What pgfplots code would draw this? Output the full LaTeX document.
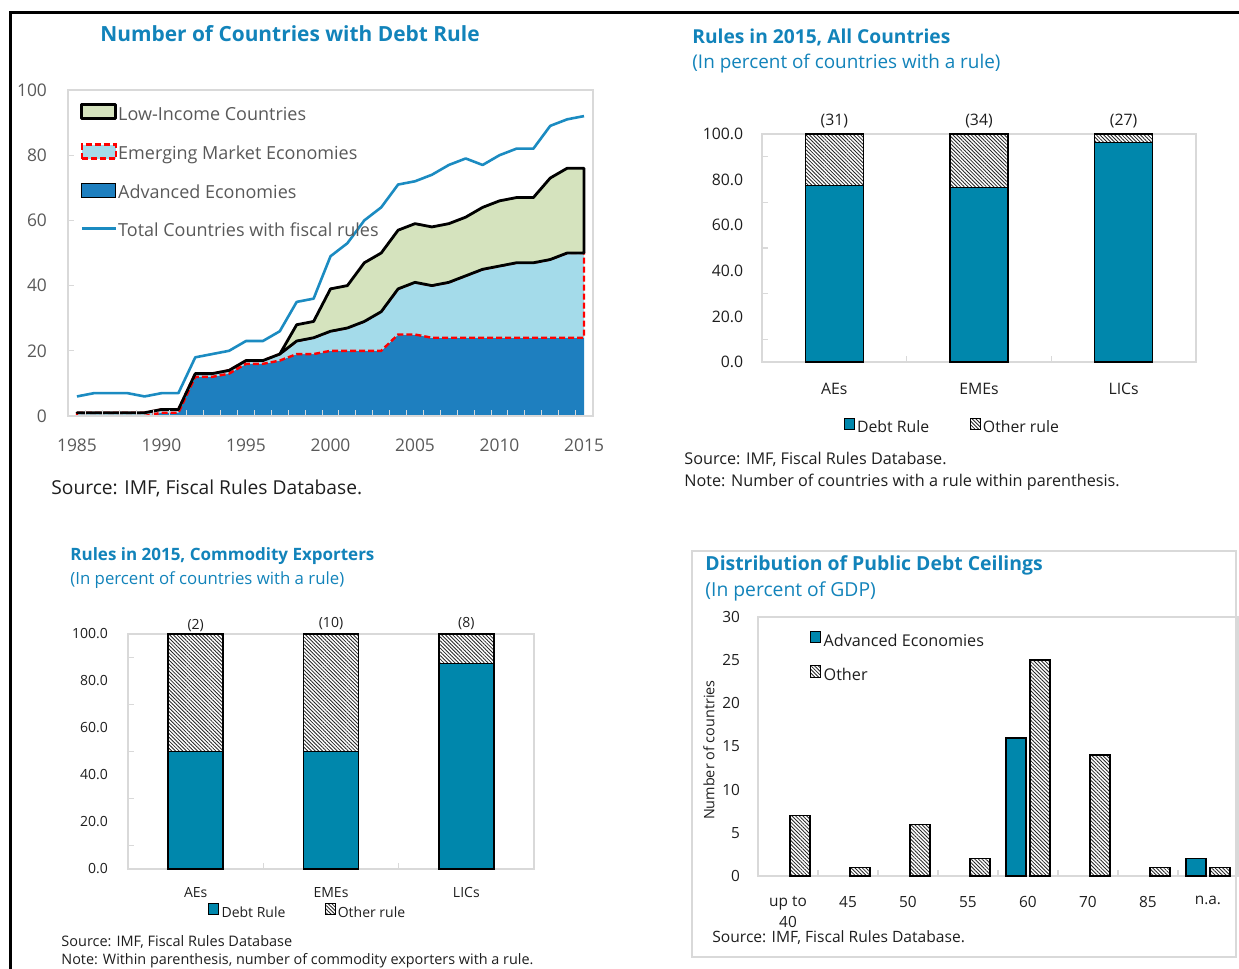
\documentclass[border=0pt]{standalone}
\usepackage{fontspec}
\setmainfont{Open Sans}
\usepackage{pgfplots}
\pgfplotsset{compat=1.18}
\usetikzlibrary{patterns.meta}

\definecolor{ttl}{RGB}{18,131,186}
\definecolor{aeblue}{RGB}{30,127,191}
\definecolor{totblue}{RGB}{27,139,193}
\definecolor{emelight}{RGB}{164,219,234}
\definecolor{licgreen}{RGB}{213,227,190}
\definecolor{debt}{RGB}{0,135,172}
\definecolor{lbl}{RGB}{89,89,89}
\definecolor{frm}{RGB}{217,217,217}
\definecolor{txt}{RGB}{30,30,30}

\newcommand{\fs}[1]{\fontsize{#1pt}{10.5pt}\selectfont}
\tikzset{hatch/.style={pattern={Lines[angle=-45,distance=1.3pt,line width=0.42pt]},pattern color=black!85}}
\pgfplotsset{
  boxleg/.style={legend image code/.code={\draw[##1] (0pt,-1.8pt) rectangle (17pt,5.2pt);}},
  lineleg/.style={legend image code/.code={\draw[##1] (0pt,1.7pt) -- (17pt,1.7pt);}},
}

\begin{document}
\begin{tikzpicture}
\begin{scope}[x=0.5pt,y=-0.5pt]
\path[use as bounding box] (0,0) rectangle (1239,969);
\draw[line width=1.5pt] (10,969) -- (10,12) -- (1239,12);
\draw[frm, line width=1pt] (692,551) rectangle (1236,957);
% titles and notes
\node[anchor=center, inner sep=0, font=\bfseries\fs{10.45}, text=ttl] at (290,34) {Number of Countries with Debt Rule};
\node[anchor=west, inner sep=0, font=\fs{9.6}, text=txt] at (51,488) {Source: IMF, Fiscal Rules Database.};
\node[anchor=west, inner sep=0, font=\bfseries\fs{9.6}, text=ttl] at (692,37) {Rules in 2015, All Countries};
\node[anchor=west, inner sep=0, font=\fs{9.45}, text=ttl] at (692,64) {(In percent of countries with a rule)};
\node[anchor=west, inner sep=0, font=\fs{8.1}, text=txt] at (684,459) {Source: IMF, Fiscal Rules Database.};
\node[anchor=west, inner sep=0, font=\fs{8.1}, text=txt] at (684,482) {Note: Number of countries with a rule within parenthesis.};
\node[anchor=west, inner sep=0, font=\bfseries\fs{8.5}, text=ttl] at (70,556) {Rules in 2015, Commodity Exporters};
\node[anchor=west, inner sep=0, font=\fs{8.4}, text=ttl] at (70,580) {(In percent of countries with a rule)};
\node[anchor=west, inner sep=0, font=\fs{7.25}, text=txt] at (61,942) {Source: IMF, Fiscal Rules Database};
\node[anchor=west, inner sep=0, font=\fs{7.2}, text=txt] at (61,961) {Note: Within parenthesis, number of commodity exporters with a rule.};
\node[anchor=west, inner sep=0, font=\bfseries\fs{9.7}, text=ttl] at (705,565) {Distribution of Public Debt Ceilings};
\node[anchor=west, inner sep=0, font=\fs{9.65}, text=ttl] at (705,591) {(In percent of GDP)};
\node[anchor=west, inner sep=0, font=\fs{7.8}, text=txt] at (712,938) {Source: IMF, Fiscal Rules Database.};
\end{scope}

% ---------- Number of countries with debt rule
\begin{axis}[
  at={(34pt,-208pt)}, anchor=south west,
  scale only axis, width=262.5pt, height=163pt,
  xmin=1984.47, xmax=2015.53, ymin=0, ymax=100,
  axis on top,
  axis line style={frm, line width=0.8pt},
  xtick={1985,1990,...,2015}, ytick={0,20,...,100},
  minor xtick={1985.5,1986.5,...,2014.5}, minor ytick={20,40,60,80},
  major tick length=0pt, minor tick length=3pt,
  tick align=inside, tick pos=left,
  minor tick style={frm, line width=0.5pt},
  ticklabel style={font=\fs{8.7}, text=lbl},
  /pgf/number format/assume math mode=true,
  /pgf/number format/1000 sep={},
  xticklabel style={yshift=-8pt},
  yticklabel style={xshift=-7pt},
  reverse legend,
  legend cell align=left,
  legend style={at={(0.0229,0.96)}, anchor=north west, draw=none, fill=none, inner sep=0pt,
    font=\fs{9}, row sep=9pt,
    nodes={inner sep=0.5pt, text height=7pt, text depth=2.1pt, text=lbl}},
]
\addplot[totblue, line width=1.3pt, line join=round, lineleg]
  coordinates {(1985,6) (1986,7) (1987,7) (1988,7) (1989,6) (1990,7) (1991,7) (1992,18) (1993,19) (1994,20)
  (1995,23) (1996,23) (1997,26) (1998,35) (1999,36) (2000,49) (2001,53) (2002,60) (2003,64) (2004,71)
  (2005,72) (2006,74) (2007,77) (2008,79) (2009,77) (2010,80) (2011,82) (2012,82) (2013,89) (2014,91) (2015,92)};
\addlegendentry{Total Countries with fiscal rules}
\addplot[fill=aeblue, draw=none, boxleg]
  coordinates {(1985,0) (1986,0) (1987,0) (1988,0) (1989,0) (1990,1) (1991,1) (1992,12) (1993,12) (1994,13)
  (1995,16) (1996,16) (1997,17) (1998,19) (1999,19) (2000,20) (2001,20) (2002,20) (2003,20) (2004,25)
  (2005,25) (2006,24) (2007,24) (2008,24) (2009,24) (2010,24) (2011,24) (2012,24) (2013,24) (2014,24) (2015,24)} \closedcycle;
\addlegendentry{Advanced Economies}
\addplot[fill=emelight, draw=red, line width=1.2pt, dash pattern=on 3pt off 1.5pt, boxleg]
  coordinates {(1985,1) (1986,1) (1987,1) (1988,1) (1989,1) (1990,2) (1991,2) (1992,13) (1993,13) (1994,14)
  (1995,17) (1996,17) (1997,19) (1998,23) (1999,24) (2000,26) (2001,27) (2002,29) (2003,32) (2004,39)
  (2005,41) (2006,40) (2007,41) (2008,43) (2009,45) (2010,46) (2011,47) (2012,47) (2013,48) (2014,50) (2015,50)
  (2015,24) (2014,24) (2013,24) (2012,24) (2011,24) (2010,24) (2009,24) (2008,24) (2007,24) (2006,24)
  (2005,25) (2004,25) (2003,20) (2002,20) (2001,20) (2000,20) (1999,19) (1998,19) (1997,17) (1996,16)
  (1995,16) (1994,13) (1993,12) (1992,12) (1991,1) (1990,1) (1989,0) (1988,0) (1987,0) (1986,0) (1985,0)} -- cycle;
\addlegendentry{Emerging Market Economies}
\addplot[fill=licgreen, draw=black, line width=1.4pt, line join=round, boxleg]
  coordinates {(1985,1) (1986,1) (1987,1) (1988,1) (1989,1) (1990,2) (1991,2) (1992,13) (1993,13) (1994,14)
  (1995,17) (1996,17) (1997,19) (1998,28) (1999,29) (2000,39) (2001,40) (2002,47) (2003,50) (2004,57)
  (2005,59) (2006,58) (2007,59) (2008,61) (2009,64) (2010,66) (2011,67) (2012,67) (2013,73) (2014,76) (2015,76)
  (2015,50) (2014,50) (2013,48) (2012,47) (2011,47) (2010,46) (2009,45) (2008,43) (2007,41) (2006,40)
  (2005,41) (2004,39) (2003,32) (2002,29) (2001,27) (2000,26) (1999,24) (1998,23) (1997,19) (1996,17)
  (1995,17) (1994,14) (1993,13) (1992,13) (1991,2) (1990,2) (1989,1) (1988,1) (1987,1) (1986,1) (1985,1)} -- cycle;
\addlegendentry{Low-Income Countries}
\end{axis}

% ---------- Rules in 2015, all countries
\begin{axis}[
  at={(381pt,-181pt)}, anchor=south west,
  scale only axis, width=217pt, height=114pt, clip=false,
  ybar stacked, bar width=29pt,
  xmin=-0.5, xmax=2.5, ymin=0, ymax=100,
  axis line style={frm, line width=0.8pt},
  xtick={0,1,2}, xticklabels={AEs,EMEs,LICs},
  ytick={0,20,...,100}, minor ytick={10,30,...,90}, minor xtick={0.5,1.5},
  major tick length=0pt, minor tick length=3pt, tick align=inside, tick pos=left,
  minor tick style={frm, line width=0.6pt},
  ticklabel style={font=\fs{7.9}, text=txt},
  yticklabel style={/pgf/number format/fixed, /pgf/number format/fixed zerofill,
    /pgf/number format/precision=1, /pgf/number format/assume math mode=true, xshift=-5.9pt},
  xticklabel style={yshift=-7pt},
  legend columns=2,
  legend style={at={(0.439,-0.29)}, anchor=center, draw=none, fill=none, inner sep=0pt, font=\fs{7.9},
    /tikz/every even column/.append style={column sep=19pt}, nodes={inner sep=1.2pt, text=txt}},
  legend image code/.code={\draw[#1, line width=0.5pt] (0pt,-0.6pt) rectangle (5pt,4.9pt);},
]
\addplot[fill=debt, draw=black, line width=0.7pt] coordinates {(0,77.4) (1,76.5) (2,96.3)};
\addplot[hatch, draw=black, line width=0.7pt] coordinates {(0,22.6) (1,23.5) (2,3.7)};
\legend{Debt Rule, Other rule}
\node[font=\fs{7.9}, text=txt, anchor=south, inner sep=0pt, yshift=3pt] at (axis cs:0,100) {(31)};
\node[font=\fs{7.9}, text=txt, anchor=south, inner sep=0pt, yshift=3pt] at (axis cs:1,100) {(34)};
\node[font=\fs{7.9}, text=txt, anchor=south, inner sep=0pt, yshift=3pt] at (axis cs:2,100) {(27)};
\end{axis}

% ---------- Rules in 2015, commodity exporters
\begin{axis}[
  at={(64pt,-434.5pt)}, anchor=south west,
  scale only axis, width=203pt, height=117.5pt, clip=false,
  ybar stacked, bar width=27.5pt,
  xmin=-0.5, xmax=2.5, ymin=0, ymax=100,
  axis line style={frm, line width=0.8pt},
  xtick={0,1,2}, xticklabels={AEs,EMEs,LICs},
  ytick={0,20,...,100}, minor ytick={10,30,...,90}, minor xtick={0.5,1.5},
  major tick length=0pt, minor tick length=3pt, tick align=inside, tick pos=left,
  minor tick style={frm, line width=0.6pt},
  ticklabel style={font=\fs{7}, text=txt},
  yticklabel style={/pgf/number format/fixed, /pgf/number format/fixed zerofill,
    /pgf/number format/precision=1, /pgf/number format/assume math mode=true, xshift=-6.5pt},
  xticklabel style={yshift=-5.5pt},
  legend columns=2,
  legend style={at={(0.443,-0.187)}, anchor=center, draw=none, fill=none, inner sep=0pt, font=\fs{7},
    /tikz/every even column/.append style={column sep=18.5pt}, nodes={inner sep=1.1pt, text=txt}},
  legend image code/.code={\draw[#1, line width=0.5pt] (0pt,-0.6pt) rectangle (5pt,4.7pt);},
]
\addplot[fill=debt, draw=black, line width=0.7pt] coordinates {(0,50) (1,50) (2,87.5)};
\addplot[hatch, draw=black, line width=0.7pt] coordinates {(0,50) (1,50) (2,12.5)};
\legend{Debt Rule, Other rule}
\node[font=\fs{7}, text=txt, anchor=south, inner sep=0pt, yshift=0.8pt] at (axis cs:0,100) {(2)};
\node[font=\fs{7}, text=txt, anchor=south, inner sep=0pt, yshift=2pt] at (axis cs:1,100) {(10)};
\node[font=\fs{7}, text=txt, anchor=south, inner sep=0pt, yshift=2pt] at (axis cs:2,100) {(8)};
\end{axis}

% ---------- Distribution of public debt ceilings
\begin{axis}[
  at={(379pt,-438pt)}, anchor=south west,
  scale only axis, width=240pt, height=129.5pt,
  ybar=2pt, bar width=10pt,
  xmin=-0.5, xmax=7.5, ymin=0, ymax=30,
  axis line style={frm, line width=0.8pt},
  xtick={0,...,7}, xticklabels={{up to\\40},45,50,55,60,70,85,n.a.},
  ytick={0,5,...,30}, minor xtick={0.5,1.5,...,6.5},
  major tick length=0pt, minor tick length=3pt, tick align=inside, tick pos=left,
  minor tick style={frm, line width=0.6pt},
  ticklabel style={font=\fs{7.7}, text=txt},
  /pgf/number format/assume math mode=true,
  xticklabel style={align=center, anchor=north, yshift=-6.5pt},
  yticklabel style={xshift=-5.5pt},
  ylabel={Number of countries},
  ylabel style={font=\fs{7.2}, text=txt, at={(axis description cs:-0.102,0.486)}, anchor=center},
  legend cell align=left,
  legend style={at={(0.108,0.948)}, anchor=north west, draw=none, fill=none, inner sep=0pt,
    font=\fs{8.1}, row sep=6.4pt,
    nodes={inner sep=1.2pt, text height=6.3pt, text depth=1.9pt, text=txt}},
  legend image code/.code={\draw[#1, line width=0.5pt] (0pt,-0.6pt) rectangle (5pt,5.2pt);},
]
\addplot[fill=debt, draw=black, line width=0.7pt] coordinates {(4,16) (7,2)};
\addplot[hatch, draw=black, line width=0.7pt] coordinates {(0,7) (1,1) (2,6) (3,2) (4,25) (5,14) (6,1) (7,1)};
\legend{Advanced Economies, Other}
\end{axis}
\end{tikzpicture}
\end{document}
